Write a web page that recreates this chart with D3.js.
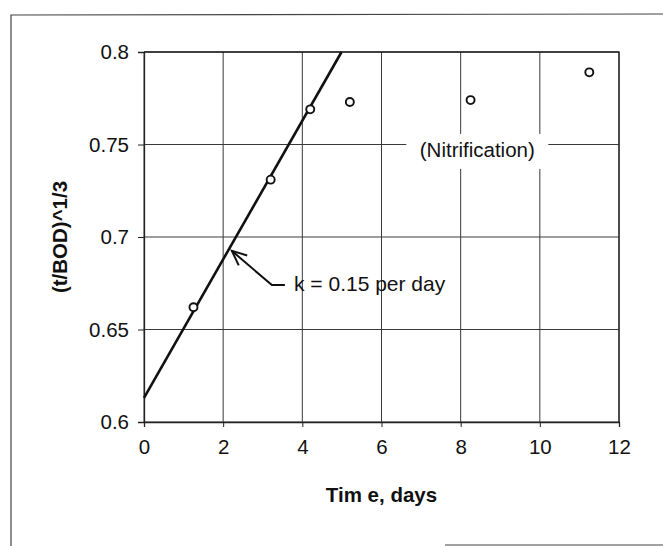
<!DOCTYPE html>
<html>
<head>
<meta charset="utf-8">
<script src="https://cdn.jsdelivr.net/npm/d3@7"></script>
<style>
  body { margin: 0; background: #fff; }
  svg { font-family: "Liberation Sans", Arial, sans-serif; }
  .grid-line { stroke: #3a3a3a; stroke-width: 1; }
</style>
</head>
<body>
<script>
// observed data, time in days vs (t/BOD)^1/3
const days = [1.25, 3.2, 4.2, 5.2, 8.25, 11.25];
const bodRoot = [0.662, 0.731, 0.769, 0.773, 0.774, 0.789];

// fitted straight line (first four points)
const fitDays = [0, 4.99];
const fitValues = [0.613, 0.8];

const xTicks = [0, 2, 4, 6, 8, 10, 12];
const xTickLabels = ["0", "2", "4", "6", "8", "10", "12"];
const yTicks = [0.6, 0.65, 0.7, 0.75, 0.8];
const yTickLabels = ["0.6", "0.65", "0.7", "0.75", "0.8"];

const xTitle = "Tim e, days";
const yTitle = "(t/BOD)^1/3";
const slopeNote = "k = 0.15 per day";
const nitrificationNote = "(Nitrification)";

function init() {
  const dimensions = {
    margin: { top: 52, right: 44, bottom: 124, left: 144 },
    width: 663,
    height: 546,
  }
  const { width, height, margin } = dimensions

  const svg = d3.select("body").append("svg").attr("width", width).attr("height", height);

  // outer frame of the scanned figure
  const frame = svg.append("g").attr("stroke", "#444").attr("stroke-width", 1.2).attr("fill", "none");
  frame.append("path").attr("d", d3.line()([[11, 546], [11, 15], [663, 14]]));
  frame.append("path").attr("d", d3.line()([[445, 545], [663, 545]]));

  const xScale = d3.scaleLinear()
    .domain([0, 12])
    .range([margin.left, width - margin.right]);

  const yScale = d3.scaleLinear()
    .domain([0.6, 0.8])
    .range([height - margin.bottom, margin.top]);

  const graph = svg.append("g");

  // grid
  graph.append("g")
    .selectAll("line.v")
    .data(xTicks)
    .join("line")
    .attr("class", "grid-line")
    .attr("x1", d => xScale(d)).attr("x2", d => xScale(d))
    .attr("y1", yScale(0.6)).attr("y2", yScale(0.8));

  graph.append("g")
    .selectAll("line.h")
    .data(yTicks)
    .join("line")
    .attr("class", "grid-line")
    .attr("x1", xScale(0)).attr("x2", xScale(12))
    .attr("y1", d => yScale(d)).attr("y2", d => yScale(d));

  // axes
  const xAxisGenerator = d3.axisBottom(xScale)
    .tickValues(xTicks)
    .tickFormat((d, i) => xTickLabels[i])
    .tickSize(5)
    .tickPadding(12);

  const xAxis = graph.append("g")
    .attr("transform", `translate(0,${yScale(0.6)})`)
    .call(xAxisGenerator);

  const yAxisGenerator = d3.axisLeft(yScale)
    .tickValues(yTicks)
    .tickFormat((d, i) => yTickLabels[i])
    .tickSize(6)
    .tickPadding(9);

  const yAxis = graph.append("g")
    .attr("transform", `translate(${xScale(0)},0)`)
    .call(yAxisGenerator);

  [xAxis, yAxis].forEach(a => {
    a.select(".domain").attr("stroke", "#222").attr("stroke-width", 1.3);
    a.selectAll(".tick line").attr("stroke", "#222");
    a.selectAll(".tick text")
      .attr("fill", "#111")
      .style("font-size", "20.5px")
      .style("font-family", "'Liberation Sans', Arial, sans-serif");
  });

  // right and top border of plot area
  graph.append("path")
    .attr("fill", "none").attr("stroke", "#222").attr("stroke-width", 1.3)
    .attr("d", d3.line()([[xScale(0), yScale(0.8)], [xScale(12), yScale(0.8)], [xScale(12), yScale(0.6)]]));

  // nitrification label with white box that breaks the grid
  const nitroX = 8.42, nitroY = 0.746;
  graph.append("rect")
    .attr("x", xScale(nitroX) - 71).attr("y", yScale(nitroY) - 18)
    .attr("width", 142).attr("height", 35)
    .attr("fill", "#fff");
  graph.append("text")
    .attr("x", xScale(nitroX)).attr("y", yScale(nitroY))
    .attr("text-anchor", "middle").attr("dominant-baseline", "middle")
    .attr("fill", "#111").style("font-size", "20.5px")
    .text(nitrificationNote);

  // fitted line
  const lineGenerator = d3.line()
    .x(d => xScale(d[0]))
    .y(d => yScale(d[1]));

  graph.append("path")
    .attr("fill", "none").attr("stroke", "#111").attr("stroke-width", 2.6)
    .attr("d", lineGenerator(fitDays.map((d, i) => [d, fitValues[i]])));

  // data points
  graph.append("g")
    .selectAll("circle")
    .data(days.map((d, i) => [d, bodRoot[i]]))
    .join("circle")
    .attr("cx", d => xScale(d[0]))
    .attr("cy", d => yScale(d[1]))
    .attr("r", 4)
    .attr("fill", "#fff")
    .attr("stroke", "#111")
    .attr("stroke-width", 1.9);

  // slope annotation with arrow
  const tip = [xScale(2.22), yScale(0.6925)];
  const elbow = [xScale(3.23), yScale(0.674)];
  const end = [xScale(3.56), yScale(0.674)];
  const note = graph.append("g").attr("fill", "none").attr("stroke", "#111").attr("stroke-width", 2);
  note.append("path").attr("d", d3.line()([end, elbow, tip]));
  const ang = Math.atan2(elbow[1] - tip[1], elbow[0] - tip[0]);
  const len = 16, spread = 0.42;
  note.append("path").attr("d", d3.line()([
    [tip[0] + len * Math.cos(ang - spread), tip[1] + len * Math.sin(ang - spread)],
    tip,
    [tip[0] + len * Math.cos(ang + spread), tip[1] + len * Math.sin(ang + spread)]
  ]));

  graph.append("text")
    .attr("x", xScale(3.79)).attr("y", yScale(0.674) + 6)
    .attr("fill", "#111").style("font-size", "21px")
    .text(slopeNote);

  // axis titles
  svg.append("text")
    .attr("x", (xScale(0) + xScale(12)) / 2).attr("y", 502)
    .attr("text-anchor", "middle")
    .attr("font-weight", "bold").attr("fill", "#111").style("font-size", "20.5px")
    .text(xTitle);

  svg.append("text")
    .attr("transform", `translate(67,${yScale(0.7)}) rotate(-90)`)
    .attr("text-anchor", "middle")
    .attr("font-weight", "bold").attr("fill", "#111").style("font-size", "20.5px")
    .text(yTitle);
}

document.addEventListener("DOMContentLoaded", init)
</script>
</body>
</html>
